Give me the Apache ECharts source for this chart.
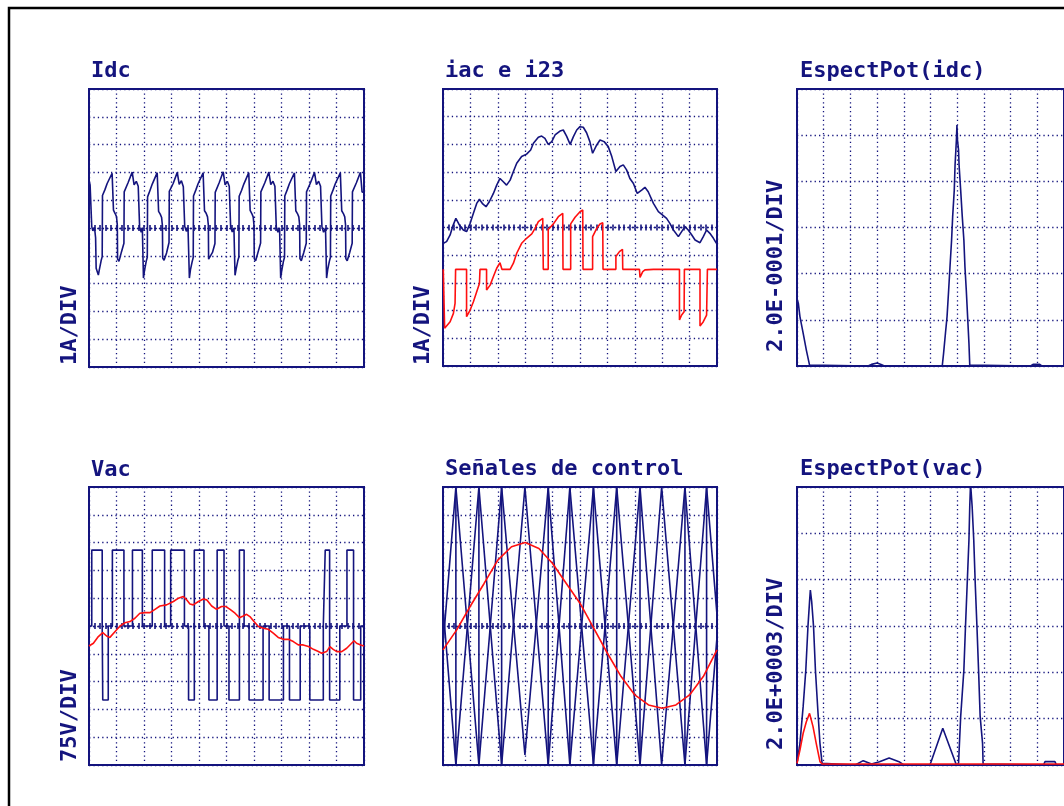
<!DOCTYPE html>
<html><head><meta charset="utf-8">
<script src="https://cdn.jsdelivr.net/npm/echarts@6/dist/echarts.min.js"></script>
<style>html,body{margin:0;padding:0;background:#fff}#c{width:1064px;height:806px}</style>
</head><body><div id="c"></div>
<script>
// ---------- DATA (x in divisions 0..10, y in divisions / units) ----------
const titles = ['Idc', 'iac e i23', 'EspectPot(idc)', 'Vac', 'Señales de control', 'EspectPot(vac)'];
const scaleLabels = ['1A/DIV', '1A/DIV', '2.0E-0001/DIV', '75V/DIV', '', '2.0E+0003/DIV'];

const idcTrace = [
 [0,1.72],[0.04,1.55],[0.06,1.62],[0.08,1.5],[0.1,0.05],[0.14,-0.1],[0.2,0.02],[0.24,-0.35],[0.26,-1.45],
 [0.34,-1.69],[0.38,-1.48],[0.44,-1.18],[0.48,-1.03],[0.49,1.17],[0.58,1.38],[0.66,1.6],[0.84,1.97],[0.88,1.95],[0.89,0.64],[0.95,0.52],[1.0,0.41],[1.03,0.1],[1.04,-1.12],[1.09,-1.2],[1.18,-0.86],[1.27,-0.55],[1.28,1.3],[1.42,1.63],[1.57,2.01],[1.64,1.55],[1.72,1.68],[1.79,1.5],[1.84,0.04],[1.9,-0.15],[1.94,0.0],
 [1.98,-1.8],[2.02,-1.52],[2.08,-1.2],[2.12,-1.05],[2.13,1.12],[2.22,1.36],[2.3,1.58],[2.48,1.99],[2.52,1.94],[2.53,0.6],[2.59,0.5],[2.64,0.38],[2.67,0.08],[2.68,-1.08],[2.73,-1.16],[2.82,-0.9],[2.91,-0.52],[2.92,1.32],[3.06,1.6],[3.21,2.0],[3.28,1.57],[3.36,1.7],[3.43,1.48],[3.48,0.06],[3.54,-0.12],[3.6,0.02],
 [3.65,-1.8],[3.69,-1.5],[3.75,-1.22],[3.79,-1.06],[3.8,1.15],[3.89,1.38],[3.97,1.6],[4.15,1.98],[4.19,1.95],[4.2,0.62],[4.26,0.53],[4.31,0.4],[4.34,0.1],[4.35,-1.12],[4.4,-1.18],[4.49,-0.88],[4.58,-0.56],[4.59,1.28],[4.73,1.62],[4.88,2.02],[4.95,1.55],[5.03,1.68],[5.1,1.5],[5.15,0.05],[5.21,-0.14],[5.27,0.0],
 [5.31,-1.7],[5.35,-1.48],[5.41,-1.18],[5.45,-1.04],[5.46,1.14],[5.55,1.36],[5.63,1.58],[5.81,1.99],[5.85,1.96],[5.86,0.63],[5.92,0.52],[5.97,0.4],[6.0,0.1],[6.01,-1.1],[6.06,-1.18],[6.15,-0.86],[6.24,-0.54],[6.25,1.3],[6.39,1.62],[6.54,2.01],[6.61,1.56],[6.69,1.68],[6.76,1.5],[6.81,0.05],[6.87,-0.15],[6.93,0.0],
 [6.97,-1.8],[7.01,-1.52],[7.07,-1.2],[7.11,-1.05],[7.12,1.15],[7.21,1.38],[7.29,1.6],[7.47,1.98],[7.51,1.95],[7.52,0.62],[7.58,0.52],[7.63,0.4],[7.66,0.1],[7.67,-1.1],[7.72,-1.18],[7.81,-0.88],[7.9,-0.55],[7.91,1.3],[8.05,1.62],[8.2,2.0],[8.27,1.56],[8.35,1.68],[8.42,1.5],[8.47,0.05],[8.53,-0.15],[8.6,0.0],
 [8.64,-1.8],[8.68,-1.5],[8.74,-1.2],[8.78,-1.05],[8.79,1.15],[8.88,1.38],[8.96,1.6],[9.14,1.98],[9.18,1.95],[9.19,0.62],[9.25,0.52],[9.3,0.4],[9.33,0.1],[9.34,-1.1],[9.39,-1.18],[9.48,-0.88],[9.57,-0.55],[9.58,1.3],[9.72,1.62],[9.87,2.0],[9.93,1.3],[10,1.28]
];

const iacTrace = [
 [0.01,-0.57],[0.13,-0.51],[0.26,-0.27],[0.35,0.03],[0.47,0.33],[0.6,0.09],[0.74,-0.09],[0.86,-0.15],[0.99,0.15],[1.11,0.51],[1.23,0.87],[1.33,1.02],[1.45,0.85],[1.57,0.75],[1.69,0.93],[1.84,1.23],[1.96,1.53],[2.08,1.77],[2.2,1.65],[2.32,1.53],[2.45,1.71],[2.57,2.02],[2.69,2.32],[2.87,2.56],[3.05,2.65],[3.2,2.8],[3.3,3.04],[3.48,3.26],[3.6,3.3],[3.72,3.22],[3.84,3.0],[3.97,3.1],[4.09,3.34],[4.27,3.48],[4.39,3.52],[4.51,3.3],[4.64,3.0],[4.76,3.28],[4.88,3.52],[5.0,3.64],[5.12,3.62],[5.24,3.42],[5.36,3.1],[5.46,2.68],[5.61,2.98],[5.73,3.16],[5.88,3.1],[6.03,2.92],[6.16,2.56],[6.31,2.02],[6.46,2.2],[6.58,2.26],[6.7,2.08],[6.82,1.77],[6.95,1.59],[7.09,1.23],[7.25,1.35],[7.37,1.45],[7.49,1.29],[7.68,0.87],[7.86,0.57],[8.04,0.43],[8.16,0.33],[8.28,0.15],[8.41,-0.09],[8.59,-0.33],[8.71,-0.15],[8.83,0.03],[8.95,-0.09],[9.08,-0.27],[9.2,-0.45],[9.38,-0.55],[9.5,-0.33],[9.62,-0.09],[9.74,-0.21],[9.87,-0.39],[9.98,-0.57]
];

const i23Trace = [
 [0.01,-1.51],[0.05,-1.51],[0.06,-3.64],[0.13,-3.64],[0.26,-3.4],[0.38,-3.1],[0.44,-2.74],[0.46,-1.51],[0.86,-1.51],[0.86,-3.22],[0.99,-2.98],[1.11,-2.68],[1.23,-2.32],[1.33,-2.02],[1.35,-1.51],[1.59,-1.51],[1.59,-2.26],[1.72,-2.08],[1.84,-1.77],[1.96,-1.47],[2.08,-1.27],[2.14,-1.23],[2.15,-1.51],[2.45,-1.51],[2.57,-1.29],[2.69,-0.93],[2.87,-0.57],[3.05,-0.39],[3.24,-0.23],[3.36,-0.03],[3.48,0.21],[3.64,0.33],[3.66,-1.51],[3.84,-1.51],[3.84,-0.07],[4.03,0.13],[4.21,0.39],[4.37,0.51],[4.38,-1.51],[4.66,-1.51],[4.66,0.13],[4.82,0.37],[5.0,0.57],[5.1,0.63],[5.11,-1.51],[5.46,-1.51],[5.46,-0.33],[5.61,-0.03],[5.73,0.13],[5.83,0.17],[5.84,-1.51],[6.31,-1.51],[6.31,-1.05],[6.44,-0.87],[6.55,-0.79],[6.56,-1.51],[7.17,-1.51],[7.19,-1.8],[7.29,-1.59],[7.37,-1.53],[7.68,-1.51],[8.63,-1.51],[8.63,-3.34],[8.71,-3.16],[8.8,-3.04],[8.81,-1.51],[9.38,-1.51],[9.38,-3.56],[9.5,-3.4],[9.62,-3.16],[9.65,-1.51],[10,-1.51]
];

const espIdcTrace = [
 [0,0.293],[0.05,0.271],[0.11,0.214],[0.23,0.142],[0.35,0.069],[0.47,0.004],[0.54,0],[2.66,0],[2.79,0.007],[3.0,0.013],[3.15,0.007],[3.27,0],[5.44,0],[5.49,0.055],[5.56,0.142],[5.62,0.214],[5.68,0.329],[5.73,0.43],[5.79,0.546],[5.83,0.647],[5.89,0.762],[5.92,0.871],[5.95,0.936],[5.97,0.979],[5.99,1.044],[6.01,0.979],[6.05,0.936],[6.07,0.871],[6.13,0.762],[6.19,0.647],[6.25,0.546],[6.29,0.43],[6.34,0.329],[6.39,0.214],[6.44,0.098],[6.47,0.004],[6.5,0],[8.75,0],[8.84,0.007],[9.09,0.007],[9.17,0],[10,0]
];

const vacTrace = [
 [0,0],[0.1,0],[0.1,2.73],[0.48,2.73],[0.48,0],[0.5,0],[0.5,-2.66],[0.7,-2.66],[0.7,0],[0.85,0],[0.85,2.73],[1.27,2.73],[1.27,0],[1.58,0],[1.58,2.73],[1.94,2.73],[1.94,0],[2.3,0],[2.3,2.73],[2.75,2.73],[2.75,0],[2.97,0],[2.97,2.73],[3.47,2.73],[3.47,0],[3.62,0],[3.62,-2.66],[3.83,-2.66],[3.83,2.73],[4.18,2.73],[4.18,0],[4.36,0],[4.36,-2.66],[4.66,-2.66],[4.66,2.73],[4.91,2.73],[4.91,0],[5.09,0],[5.09,-2.66],[5.47,-2.66],[5.47,2.73],[5.64,2.73],[5.64,0],[5.82,0],[5.82,-2.66],[6.33,-2.66],[6.33,0],[6.55,0],[6.55,-2.66],[7.07,-2.66],[7.07,0],[7.29,0],[7.29,-2.66],[7.68,-2.66],[7.68,0],[8.03,0],[8.03,-2.66],[8.52,-2.66],[8.52,0],[8.59,0],[8.59,2.73],[8.75,2.73],[8.75,-2.66],[9.12,-2.66],[9.12,0],[9.38,0],[9.38,2.73],[9.62,2.73],[9.62,-2.66],[9.88,-2.66],[9.88,0],[10,0]
];

const vacFundTrace = [
 [0,-0.72],[0.16,-0.62],[0.34,-0.38],[0.5,-0.24],[0.64,-0.36],[0.76,-0.41],[0.95,-0.2],[1.13,0],[1.31,0.12],[1.49,0.16],[1.67,0.28],[1.85,0.46],[2.04,0.48],[2.22,0.48],[2.4,0.6],[2.58,0.72],[2.82,0.76],[3.07,0.88],[3.25,1.0],[3.43,1.06],[3.55,0.94],[3.67,0.79],[3.79,0.76],[3.98,0.88],[4.16,0.97],[4.28,0.94],[4.46,0.72],[4.64,0.6],[4.82,0.7],[4.98,0.7],[5.13,0.6],[5.31,0.46],[5.47,0.3],[5.61,0.36],[5.73,0.42],[5.85,0.34],[6.0,0.16],[6.16,-0.02],[6.34,-0.08],[6.52,-0.12],[6.7,-0.26],[6.88,-0.41],[7.07,-0.48],[7.25,-0.48],[7.43,-0.56],[7.61,-0.68],[7.79,-0.68],[7.98,-0.74],[8.16,-0.84],[8.34,-0.92],[8.46,-0.98],[8.64,-0.92],[8.76,-0.74],[8.88,-0.84],[9.01,-0.92],[9.19,-0.92],[9.37,-0.8],[9.55,-0.62],[9.64,-0.53],[9.73,-0.62],[9.88,-0.68],[10,-0.72]
];

const ctrlSine = [
 [0,-0.86],[0.5,-0.14],[1.0,0.72],[1.5,1.53],[2.0,2.37],[2.5,2.85],[3.0,3.0],[3.5,2.79],[4.0,2.25],[4.5,1.53],[5.0,0.82],[5.5,-0.08],[6.0,-0.98],[6.5,-1.82],[7.0,-2.48],[7.5,-2.84],[8.0,-2.96],[8.5,-2.84],[9.0,-2.48],[9.5,-1.82],[10,-0.86]
];
const ctrlCarrierA = [
 [0,-0.7],[0.47,5],[1.31,-5],[2.14,5],[2.99,-4.64],[3.84,5],[4.63,-5],[5.49,5],[6.34,-5],[7.19,5],[7.98,-5],[8.83,5],[9.62,-5],[10,-0.4]
];
const ctrlCarrierB = [
 [0,0.7],[0.47,-5],[1.31,5],[2.14,-5],[2.99,5],[3.84,-5],[4.63,5],[5.49,-5],[6.34,5],[7.19,-5],[7.98,5],[8.83,-5],[9.62,5],[10,0.4]
];
const ctrlSwitchX = [0.47, 1.31, 2.14, 3.84, 4.63, 5.49, 6.34, 7.19, 8.83, 9.62];

const espVacTrace = [
 [0,72],[0.11,935],[0.23,2518],[0.33,4101],[0.41,5971],[0.47,7050],[0.5,7554],[0.55,7050],[0.62,5971],[0.69,4101],[0.78,2374],[0.86,935],[0.94,72],[0.99,0],[2.18,0],[2.48,187],[2.79,43],[3.09,144],[3.45,302],[3.82,144],[4.0,0],[4.98,0],[5.46,1583],[5.97,0],[6.05,72],[6.13,2086],[6.17,2086],[6.25,4101],[6.31,5971],[6.37,7698],[6.44,9712],[6.47,11151],[6.5,12158],[6.53,12158],[6.56,11151],[6.62,9712],[6.68,7698],[6.74,5971],[6.8,4101],[6.86,2086],[6.95,935],[6.97,43],[7.0,0],[9.23,0],[9.29,144],[9.66,144],[9.72,0],[10,0]
];
const espVacFundTrace = [
 [0,72],[0.11,647],[0.23,1367],[0.35,1870],[0.47,2230],[0.6,1655],[0.72,935],[0.86,144],[0.94,43],[10,43]
];

// ---------- CHART ----------
const NAVY = '#14147e', RED = '#ff1010';
const FONT = '"DejaVu Sans Mono", "Liberation Mono", monospace';
const panels = [
 {left:89, top:89, width:275, height:278, time:true},
 {left:443, top:89, width:274, height:277, time:true},
 {left:797, top:89, width:274, height:277, time:false, max:1.2, step:0.2},
 {left:89, top:487, width:275, height:278, time:true},
 {left:443, top:487, width:274, height:278, time:true},
 {left:797, top:487, width:274, height:278, time:false, max:12000, step:2000}
];
const panelSeries = [
 [[idcTrace, NAVY]],
 [[iacTrace, NAVY],[i23Trace, RED]],
 [[espIdcTrace, NAVY]],
 [[vacTrace, NAVY],[vacFundTrace, RED]],
 [[ctrlCarrierA, NAVY, ctrlSwitchX],[ctrlCarrierB, NAVY],[ctrlSine, RED]],
 [[espVacTrace, NAVY],[espVacFundTrace, RED]]
];

const dotted = {color: NAVY, width: 1.3, type: [1.3, 3.1]};
const tickStyle = {color: NAVY, width: 1.6};
const grid = [], xAxis = [], yAxis = [], series = [];
panels.forEach((p, i) => {
  grid.push({left: p.left, top: p.top, width: p.width, height: p.height, show: true,
    borderColor: NAVY, borderWidth: 2, backgroundColor: 'rgba(0,0,0,0)'});
  const xi = xAxis.length, yi = yAxis.length;
  const yBase = {gridIndex: i, type: 'value',
    min: p.time ? -5 : 0, max: p.time ? 5 : p.max, interval: p.time ? 1 : p.step,
    axisLabel: {show: false}, axisTick: {show: false}, axisLine: {show: false, onZero: false}};
  yAxis.push(Object.assign({}, yBase, {position: 'left', splitLine: {show: true, lineStyle: dotted}}));
  xAxis.push({gridIndex: i, type: 'value', min: 0, max: 10, interval: 1, position: 'bottom',
    axisLabel: {show: false}, splitLine: {show: true, lineStyle: dotted},
    axisLine: {show: p.time, onZero: true, onZeroAxisIndex: yi, lineStyle: dotted},
    axisTick: {show: p.time, length: 3, lineStyle: tickStyle},
    minorTick: {show: p.time, splitNumber: 5, length: 3, lineStyle: tickStyle}});
  if (p.time) {
    yAxis.push(Object.assign({}, yBase, {position: 'right', splitLine: {show: false}}));
    xAxis.push({gridIndex: i, type: 'value', min: 0, max: 10, interval: 1, position: 'top',
      axisLabel: {show: false}, splitLine: {show: false},
      axisLine: {show: false, onZero: true, onZeroAxisIndex: yi + 1},
      axisTick: {show: true, length: 3, lineStyle: tickStyle},
      minorTick: {show: true, splitNumber: 5, length: 3, lineStyle: tickStyle}});
  }
  const addLine = (data, color) => series.push({type: 'line', xAxisIndex: xi, yAxisIndex: yi, data: data,
      showSymbol: false, symbol: 'none', clip: true, silent: true,
      lineStyle: {color: color, width: 1.6}, z: 5});
  panelSeries[i].forEach(([data, color, switchX]) => {
    addLine(data, color);
    if (switchX) switchX.forEach(x => addLine([[x, -5], [x, 5]], color));
  });
});

const graphic = [
  {type: 'rect', shape: {x: 9, y: 8, width: 1200, height: 1000},
   style: {fill: 'none', stroke: '#000', lineWidth: 2.5}, z: 100}
];
const titlePos = [[91,71],[445,71],[800,71],[91,470],[445,469],[800,469]];
titles.forEach((t, i) => {
  graphic.push({type: 'text', x: titlePos[i][0], y: titlePos[i][1], z: 100,
    style: {text: t, fill: NAVY, font: 'bold 22px ' + FONT, textAlign: 'left', textVerticalAlign: 'middle'}});
});
const labelPos = [[70,365],[423.5,365],[776.5,352],[70.5,762],null,[776.5,750]];
scaleLabels.forEach((t, i) => {
  if (!t) return;
  graphic.push({type: 'text', x: labelPos[i][0], y: labelPos[i][1], rotation: Math.PI / 2, z: 100,
    style: {text: t, fill: NAVY, font: 'bold 22px ' + FONT, textAlign: 'left', textVerticalAlign: 'middle'}});
});

const chart = echarts.init(document.getElementById('c'), null, {renderer: 'canvas'});
chart.setOption({animation: false, backgroundColor: '#fff', grid, xAxis, yAxis, series, graphic});
</script></body></html>
